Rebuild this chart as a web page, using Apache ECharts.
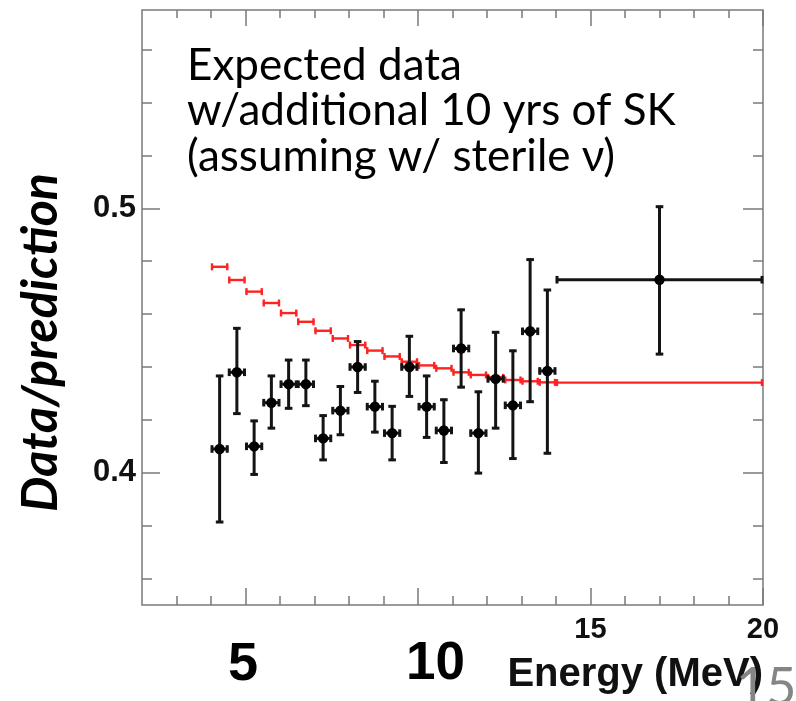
<!DOCTYPE html>
<html><head><meta charset="utf-8">
<script src="https://cdn.jsdelivr.net/npm/echarts@6/dist/echarts.min.js"></script>
<style>html,body{margin:0;padding:0;background:#fff;overflow:hidden}#c{width:796px;height:701px}</style>
</head><body><div id="c"></div>
<script>
// ---- data ----
const binLo = [4.0,4.5,5.0,5.5,6.0,6.5,7.0,7.5,8.0,8.5,9.0,9.5,10.0,10.5,11.0,11.5,12.0,12.5,13.0,13.5,14.0];
const binHi = [4.5,5.0,5.5,6.0,6.5,7.0,7.5,8.0,8.5,9.0,9.5,10.0,10.5,11.0,11.5,12.0,12.5,13.0,13.5,14.0,20.0];
const dataY  = [0.409,0.438,0.410,0.4265,0.4335,0.4335,0.413,0.4235,0.440,0.425,0.415,0.440,0.425,0.416,0.447,0.415,0.4355,0.4255,0.4535,0.4385,0.473];
const dataLo = [0.381,0.422,0.399,0.4165,0.424,0.425,0.4045,0.414,0.430,0.415,0.4045,0.4285,0.413,0.4035,0.432,0.3995,0.4165,0.405,0.4265,0.407,0.4445];
const dataHi = [0.437,0.455,0.420,0.437,0.443,0.443,0.422,0.433,0.450,0.435,0.4255,0.452,0.437,0.428,0.462,0.431,0.4535,0.4465,0.481,0.4695,0.501];
const predY  = [0.4779,0.4729,0.4685,0.4642,0.4604,0.4571,0.4537,0.4508,0.4483,0.4462,0.4440,0.4420,0.4406,0.4395,0.4380,0.4370,0.4361,0.4351,0.4346,0.4342,0.4341];

const xRange = [2, 20];
const yRange = [0.35, 0.575];
const xMinorTicks = [3,4,6,7,8,9,11,12,13,14,16,17,18,19];
const xMajorTicks = [5,10,15,20];
const xTickLabels = [15,20];
const yMinorTicks = [0.36,0.38,0.42,0.44,0.46,0.48,0.52,0.54,0.56];
const yMajorTicks = [0.4,0.5];
const yTickLabels = [0.4,0.5];

const annotation = ['Expected data','w/additional 10 yrs of SK','(assuming w/ sterile \u03bd)'];

// ---- build ----
const frameCol = '#7a7a7a';
const chart = echarts.init(document.getElementById('c'), null, {renderer:'canvas'});

function xAx(pos, ticks, len, labels, extra) {
  return Object.assign({
    type:'value', min:xRange[0], max:xRange[1], position:pos,
    axisLine:{show:false}, splitLine:{show:false},
    axisTick:{show:true, inside:true, length:len, customValues:ticks, lineStyle:{color:frameCol, width:1.5}},
    axisLabel: labels ? {show:true, customValues:labels, margin:10, fontFamily:'Liberation Sans', fontWeight:'bold', fontSize:29, color:'#111'} : {show:false}
  }, extra || {});
}
function yAx(pos, ticks, len, labels, extra) {
  return Object.assign({
    type:'value', min:yRange[0], max:yRange[1], position:pos,
    axisLine:{show:false}, splitLine:{show:false},
    axisTick:{show:true, inside:true, length:len, customValues:ticks, lineStyle:{color:frameCol, width:1.5}},
    axisLabel: labels ? {show:true, customValues:labels, margin:6, fontFamily:'Liberation Sans', fontWeight:'bold', fontSize:31, color:'#111', formatter:v=>v.toFixed(1)} : {show:false}
  }, extra || {});
}

const predData = binLo.map((lo,i)=>[lo, binHi[i], predY[i]]);
const pointData = binLo.map((lo,i)=>[lo, binHi[i], dataY[i], dataLo[i], dataHi[i]]);

const option = {
  animation:false,
  backgroundColor:'#ffffff',
  grid:{left:142, right:33, top:10, bottom:96, show:true, borderColor:frameCol, borderWidth:1.5, backgroundColor:'transparent', containLabel:false, outerBoundsMode:'none'},
  xAxis:[
    xAx('bottom', xMinorTicks, 9, xTickLabels, {
      name:'Energy (MeV)', nameLocation:'end', nameGap:0,
      nameTextStyle:{fontFamily:'Liberation Sans', fontWeight:'bold', fontSize:40, color:'#111', align:'right', verticalAlign:'top', padding:[50,0,0,0]}
    }),
    xAx('bottom', xMajorTicks, 17, null),
    xAx('top', xMinorTicks, 8, null),
    xAx('top', xMajorTicks, 16, null)
  ],
  yAxis:[
    yAx('left', yMinorTicks, 10, yTickLabels, {
      name:'Data/prediction', nameLocation:'middle', nameGap:76,
      nameTextStyle:{fontFamily:'Lato', fontStyle:'italic', fontWeight:'bold', fontSize:50, color:'#000', padding:[0,70,0,0]}
    }),
    yAx('left', yMajorTicks, 18, null),
    yAx('right', yMinorTicks, 10, null),
    yAx('right', yMajorTicks, 20, null)
  ],
  series:[
    {
      type:'custom', name:'prediction', xAxisIndex:0, yAxisIndex:0, z:3,
      data:predData, encode:{x:[0,1], y:2},
      renderItem:function(params, api){
        const xl=api.value(0), xh=api.value(1), y=api.value(2);
        const a=api.coord([xl,y]), b=api.coord([xh,y]);
        const st={stroke:'#ff2222', lineWidth:2.4};
        const c=3.5;
        return {type:'group', children:[
          {type:'line', shape:{x1:a[0],y1:a[1],x2:b[0],y2:b[1]}, style:st},
          {type:'line', shape:{x1:a[0]+1,y1:a[1]-c,x2:a[0]+1,y2:a[1]+c}, style:st},
          {type:'line', shape:{x1:b[0]-1,y1:b[1]-c,x2:b[0]-1,y2:b[1]+c}, style:st}
        ]};
      }
    },
    {
      type:'custom', name:'data', xAxisIndex:0, yAxisIndex:0, z:4,
      data:pointData, encode:{x:[0,1], y:[2,3,4]},
      renderItem:function(params, api){
        const xl=api.value(0), xh=api.value(1), y=api.value(2), yl=api.value(3), yh=api.value(4);
        const xm=(xl+xh)/2;
        const L=api.coord([xl,y]), R=api.coord([xh,y]), C=api.coord([xm,y]);
        const T=api.coord([xm,yh]), B=api.coord([xm,yl]);
        const st={stroke:'#141414', lineWidth:3};
        const c=3.8;
        return {type:'group', children:[
          {type:'line', shape:{x1:L[0],y1:L[1],x2:R[0],y2:R[1]}, style:st},
          {type:'line', shape:{x1:L[0]+1,y1:L[1]-c,x2:L[0]+1,y2:L[1]+c}, style:st},
          {type:'line', shape:{x1:R[0]-1,y1:R[1]-c,x2:R[0]-1,y2:R[1]+c}, style:st},
          {type:'line', shape:{x1:T[0],y1:T[1],x2:B[0],y2:B[1]}, style:st},
          {type:'line', shape:{x1:T[0]-c,y1:T[1]+1,x2:T[0]+c,y2:T[1]+1}, style:st},
          {type:'line', shape:{x1:B[0]-c,y1:B[1]-1,x2:B[0]+c,y2:B[1]-1}, style:st},
          {type:'circle', shape:{cx:C[0], cy:C[1], r:5.2}, style:{fill:'#000'}}
        ]};
      }
    }
  ],
  graphic:[
    {type:'text', left:187, top:43, z:10, style:{text:annotation.join('\n'), font:'normal 44px Lato', lineHeight:45.5, fill:'#000'}},
    {type:'text', left:228, top:638, z:10, style:{text:'5', font:'bold 54px "Liberation Sans"', fill:'#000'}},
    {type:'text', left:406, top:638, z:10, style:{text:'10', font:'bold 53px "Liberation Sans"', fill:'#000'}},
    {type:'text', left:736, top:662, z:11, style:{text:'15', font:'normal 52px Lato', fill:'#858585'}}
  ]
};
chart.setOption(option);
</script>
</body></html>
